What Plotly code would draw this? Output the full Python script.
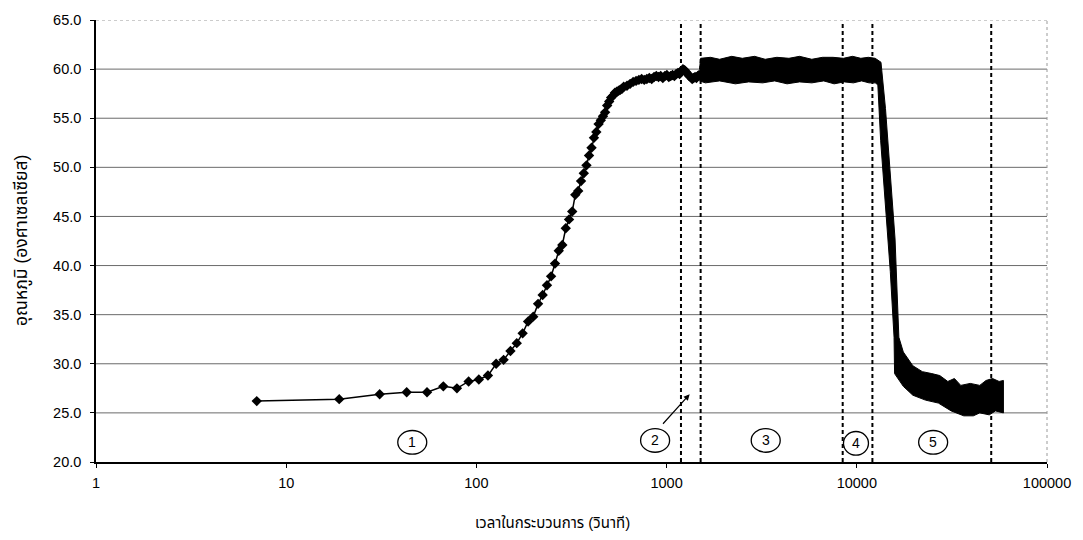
import numpy as np
import plotly.graph_objects as go

# ---------------- data ----------------
# individual samples (seconds, degC) – rising part and early plateau
time_s = [7, 19, 31, 43, 55, 67, 79, 91, 103, 115, 127, 139, 151, 163, 175, 187, 199, 211,
          223, 235, 247, 259, 271, 283, 295, 307, 319, 331, 343, 355, 367, 379, 391, 403,
          415, 427, 439, 451, 463, 475, 487, 499, 511, 523, 535, 547, 559, 571, 583, 595,
          619, 643, 667, 691, 715, 739, 763, 787, 811, 835, 859, 883, 907, 931, 955, 979,
          1003, 1027, 1051, 1075, 1099, 1123, 1147, 1171, 1195, 1219, 1243, 1267, 1291,
          1315, 1339, 1363, 1387, 1411, 1435, 1459, 1483]
temp_c = [26.2, 26.4, 26.9, 27.1, 27.1, 27.7, 27.5, 28.2, 28.4, 28.8, 30.0, 30.4, 31.3, 32.1,
          33.1, 34.3, 34.8, 36.1, 37.0, 38.0, 38.9, 40.2, 41.5, 42.1, 43.8, 44.7, 45.5, 47.2,
          47.6, 48.6, 49.4, 50.2, 51.2, 52.0, 53.0, 53.6, 54.4, 54.8, 55.2, 55.6, 56.3, 56.7,
          57.1, 57.3, 57.6, 57.7, 57.8, 57.9, 58.0, 58.2,
          58.3, 58.5, 58.7, 58.8, 58.9, 59.0, 58.9, 59.0, 59.1, 59.0, 59.2, 59.3, 59.2, 59.3,
          59.1, 59.3, 59.4, 59.2, 59.3, 59.4, 59.3, 59.5, 59.6, 59.5, 59.8, 60.0, 59.9, 59.7,
          59.5, 59.3, 59.2, 59.0, 59.1, 59.2, 59.1, 59.3, 59.4]

# dense, noisy part drawn as an envelope (upper / lower edge of the black band)
band_upper_t = [1490, 1510, 1700, 1900, 2200, 2500, 2900, 3300, 3800, 4400, 5000, 5800, 6600,
                7500, 8500, 9500, 10500, 11500, 12500, 13000, 13400, 14150, 15000, 15890,
                16640, 17560, 19710, 22100, 24800, 27300, 30100, 32600, 35200, 39500, 44300,
                47800, 51700, 56000, 59000]
band_upper_v = [60.0, 61.1, 61.2, 61.0, 61.3, 61.1, 61.3, 61.0, 61.2, 61.1, 61.3, 61.0, 61.2,
                61.2, 61.1, 61.3, 61.1, 61.2, 61.1, 60.9, 60.7, 56.0, 49.4, 42.7,
                32.7, 31.2, 29.8, 29.2, 29.0, 28.8, 28.2, 28.5, 27.8, 28.0, 27.8,
                28.3, 28.5, 28.2, 28.3]
band_lower_t = [1490, 1600, 1900, 2300, 2700, 3200, 3700, 4300, 5000, 5800, 6700, 7600, 8600,
                9600, 10600, 11600, 12500, 12900, 13350, 14150, 15000, 15700, 15800, 17560,
                19710, 22960, 26850, 31350, 36500, 41000, 44300, 49700, 53600, 59000]
band_lower_v = [58.8, 58.6, 58.8, 58.5, 58.7, 58.6, 58.8, 58.5, 58.7, 58.6, 58.8, 58.5, 58.7,
                58.6, 58.8, 58.6, 58.6, 58.4, 52.7, 46.0, 39.4, 32.7, 29.0, 27.7,
                26.8, 26.3, 26.0, 25.2, 24.7, 24.7, 25.0, 24.8, 25.2, 25.0]

# phase boundaries (s) and phase labels
boundary_t = [1190, 1510, 8430, 12080, 50900]
phase_labels = ["1", "2", "3", "4", "5"]
phase_label_t = [46, 870, 3320, 9900, 25200]
phase_label_v = [22.0, 22.2, 22.2, 21.9, 22.0]
phase_circle_w = [29, 29, 29, 25, 29]   # circle width in px

y_ticks = [20, 25, 30, 35, 40, 45, 50, 55, 60, 65]
x_ticks = [1, 10, 100, 1000, 10000, 100000]
x_ticktext = ["1", "10", "100", "1000", "10000", "100000"]

x_title = "เวลาในกระบวนการ (วินาที)"
y_title = "อุณหภูมิ (องศาเซลเซียส)"

FONT = "Liberation Sans, Arial, Noto Sans Thai, Loma, Tlwg Typo, sans-serif"
PX_PER_DECADE = 951 / 5.0
PX_PER_UNIT = 448 / 45.0

fig = go.Figure()

# band (dense data)
fig.add_trace(go.Scatter(
    x=band_upper_t + band_lower_t[::-1],
    y=band_upper_v + band_lower_v[::-1],
    fill="toself", fillcolor="black", mode="lines",
    line=dict(color="black", width=1), hoverinfo="skip", showlegend=False))

# individual samples
fig.add_trace(go.Scatter(
    x=time_s, y=temp_c, mode="lines+markers",
    line=dict(color="black", width=1.5),
    marker=dict(symbol="diamond", size=8, color="black"),
    showlegend=False))

shapes = []
# horizontal grid lines
for v in y_ticks[1:-1]:
    shapes.append(dict(type="line", xref="paper", yref="y", x0=0, x1=1, y0=v, y1=v,
                       line=dict(color="#6a6a6a", width=1), layer="below"))
shapes.append(dict(type="line", xref="paper", yref="y", x0=0, x1=1, y0=y_ticks[-1], y1=y_ticks[-1],
                   line=dict(color="#9a9a9a", width=1, dash="dot"), layer="below"))
shapes.append(dict(type="line", xref="paper", yref="paper", x0=1, x1=1, y0=0, y1=1,
                   line=dict(color="#9a9a9a", width=1, dash="dot"), layer="below"))
# phase boundaries
for t in boundary_t:
    shapes.append(dict(type="line", xref="x", yref="y", x0=t, x1=t, y0=20, y1=64.6,
                       line=dict(color="black", width=2, dash="4px,3px")))
# circles round phase numbers
for t, v, w in zip(phase_label_t, phase_label_v, phase_circle_w):
    r = 10 ** (w / 2 / PX_PER_DECADE)
    hh = 12 / PX_PER_UNIT
    shapes.append(dict(type="circle", xref="x", yref="y",
                       x0=t / r, x1=t * r, y0=v - hh, y1=v + hh,
                       line=dict(color="black", width=1.3)))

annotations = []
for lab, t, v in zip(phase_labels, phase_label_t, phase_label_v):
    annotations.append(dict(x=np.log10(t), y=v, xref="x", yref="y", text=lab, showarrow=False,
                            font=dict(family=FONT, size=14, color="black")))
# arrow from label 2
annotations.append(dict(x=np.log10(1322), y=26.9, xref="x", yref="y", text="", showarrow=True,
                        ax=-28, ay=31, arrowhead=2, arrowsize=1, arrowwidth=1.2,
                        arrowcolor="black"))
# axis titles
annotations.append(dict(x=0.4805, y=0, xref="paper", yref="paper", yshift=-60, text=x_title,
                        showarrow=False, yanchor="middle",
                        font=dict(family=FONT, size=15, color="black")))
annotations.append(dict(x=0, y=0.5, xref="paper", yref="paper", xshift=-74, text=y_title,
                        showarrow=False, textangle=-90, xanchor="center", yanchor="middle",
                        font=dict(family=FONT, size=17.5, color="black")))

fig.update_layout(
    width=1083, height=540,
    margin=dict(l=96, r=36, t=14, b=78),
    paper_bgcolor="white", plot_bgcolor="white",
    font=dict(family=FONT, size=15, color="black"),
    shapes=shapes, annotations=annotations,
    xaxis=dict(type="log", range=[0, 5], tickvals=x_ticks, ticktext=x_ticktext,
               showgrid=False, zeroline=False, showline=True, linecolor="black", linewidth=1.5,
               ticks="outside", ticklen=4, tickcolor="black", ticklabelstandoff=3,
               tickfont=dict(size=14.5)),
    yaxis=dict(range=[20, 65], tickvals=y_ticks, tickformat=".1f", showgrid=False,
               zeroline=False, showline=True, linecolor="black", linewidth=1.5,
               ticks="outside", ticklen=4, tickcolor="black", ticklabelstandoff=6,
               tickfont=dict(size=14.5)),
)

fig.write_html("out.html")
